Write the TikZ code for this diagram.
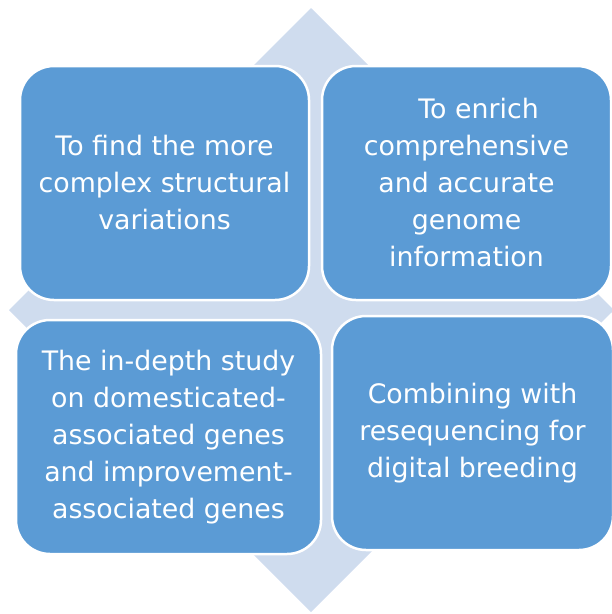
\documentclass[tikz,border=0pt]{standalone}
\usepackage{fontspec}
\setmainfont{DejaVu Sans}
\usepackage{tikz}

\definecolor{boxblue}{RGB}{91,155,213}
\definecolor{paleblue}{RGB}{207,220,238}

\begin{document}
\begin{tikzpicture}[x=1pt,y=-1pt,
  goal/.style={shape=rectangle,rounded corners=34pt,fill=boxblue,draw=white,
    line width=2.5pt,text=white,align=center,inner sep=0pt,
    font=\fontsize{26.8}{37}\selectfont}]
\useasboundingbox (0,0) rectangle (612,614);
% pale diamond behind the four boxes
\fill [paleblue] (311,8) -- (614,310) -- (311,612) -- (9,310) -- cycle;

\path (164.5,183) node (structure) [goal,minimum width=289pt,minimum height=234pt]
  {To find the more\\complex structural\\variations};
\path (466.5,183) node (genome) [goal,minimum width=289pt,minimum height=234pt]
  {\hspace*{0.9em}To enrich\\comprehensive\\and accurate\\genome\\information};
\path (168.5,437) node (genes) [goal,minimum width=305pt,minimum height=234pt]
  {The in-depth study\\on domesticated-\\associated genes\\and improvement-\\associated genes};
\path (472.5,433) node (breeding) [goal,minimum width=281pt,minimum height=234pt]
  {Combining with\\resequencing for\\digital breeding};
\end{tikzpicture}
\end{document}
